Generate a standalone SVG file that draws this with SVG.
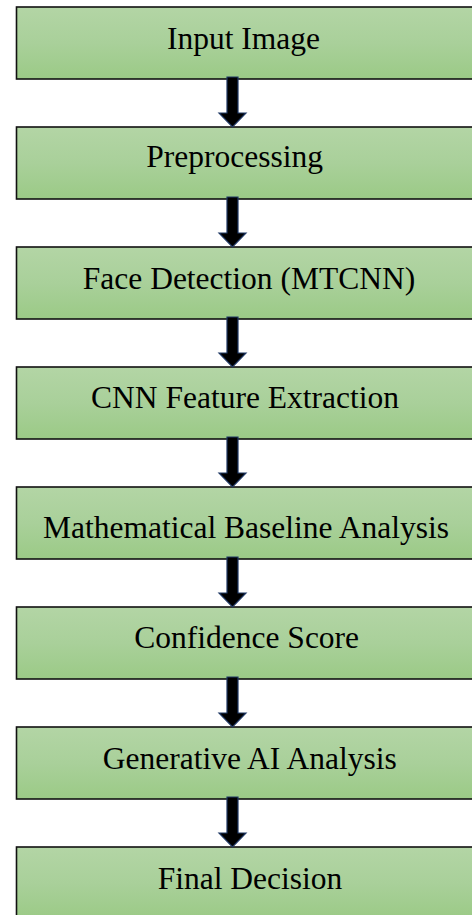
<svg xmlns="http://www.w3.org/2000/svg" width="472" height="915" viewBox="0 0 472 915">
<defs>
<linearGradient id="g" x1="0" y1="0" x2="0" y2="1">
<stop offset="0" stop-color="#b3d5a5"/>
<stop offset="0.5" stop-color="#a9d09a"/>
<stop offset="1" stop-color="#9bca86"/>
</linearGradient>
<path id="arr" d="M-5.5,0 H5.5 V36 H13.5 L0,50 L-13.5,36 H-5.5 Z"/>
</defs>
<style>
.box{fill:url(#g);stroke:#111;stroke-width:1.6}
.lbl{font-family:"Liberation Serif","Times New Roman",serif;font-size:31.5px;fill:#000;text-anchor:middle}
.ar{fill:#000;stroke:#1f3864;stroke-width:1.2;stroke-linejoin:miter}
</style>
<rect width="472" height="915" fill="#fff"/>
<g id="n1"><rect class="box" x="16.5" y="7" width="470" height="72"/><text class="lbl" x="243.5" y="48.5">Input Image</text></g>
<g id="n2"><rect class="box" x="16.5" y="127" width="470" height="72"/><text class="lbl" x="234.7" y="167">Preprocessing</text></g>
<g id="n3"><rect class="box" x="16.5" y="247" width="470" height="72"/><text class="lbl" x="249" y="288.5">Face Detection (MTCNN)</text></g>
<g id="n4"><rect class="box" x="16.5" y="367" width="470" height="72"/><text class="lbl" x="245" y="407.5">CNN Feature Extraction</text></g>
<g id="n5"><rect class="box" x="16.5" y="487" width="470" height="72"/><text class="lbl" x="246" y="538">Mathematical Baseline Analysis</text></g>
<g id="n6"><rect class="box" x="16.5" y="607" width="470" height="72"/><text class="lbl" x="246.7" y="647.5">Confidence Score</text></g>
<g id="n7"><rect class="box" x="16.5" y="727" width="470" height="72"/><text class="lbl" x="249.7" y="768.5">Generative AI Analysis</text></g>
<g id="n8"><rect class="box" x="16.5" y="847" width="470" height="72"/><text class="lbl" x="250" y="888.5">Final Decision</text></g>
<g id="connectors">
<use href="#arr" class="ar" x="232.5" y="77"/>
<use href="#arr" class="ar" x="232.5" y="197"/>
<use href="#arr" class="ar" x="232.5" y="317"/>
<use href="#arr" class="ar" x="232.5" y="437"/>
<use href="#arr" class="ar" x="232.5" y="557"/>
<use href="#arr" class="ar" x="232.5" y="677"/>
<use href="#arr" class="ar" x="232.5" y="797"/>
</g>
</svg>
